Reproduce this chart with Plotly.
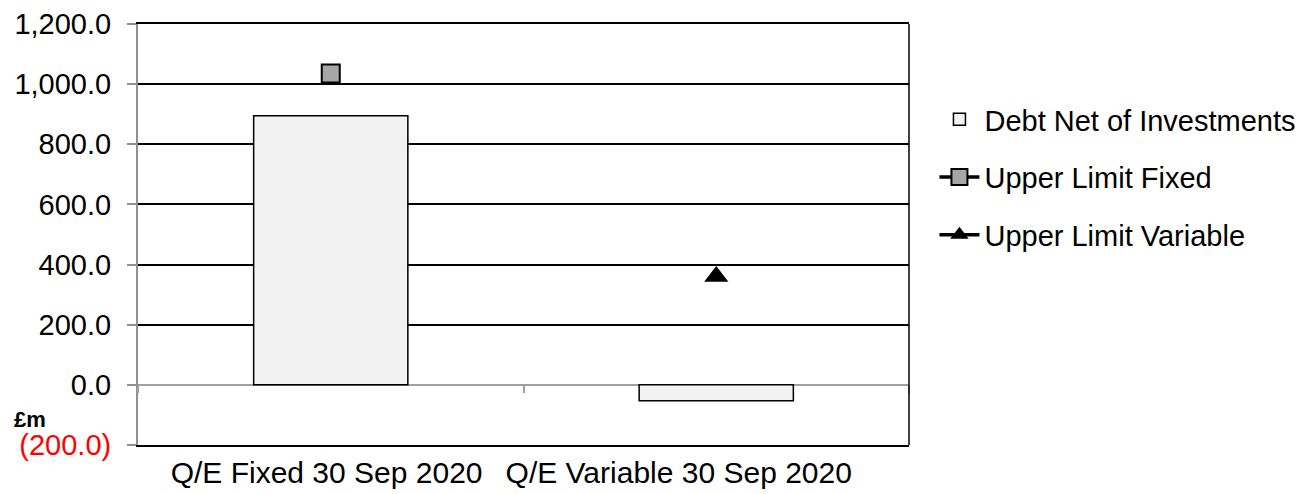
import plotly.graph_objects as go

categories = ["Q/E Fixed 30 Sep 2020", "Q/E Variable 30 Sep 2020"]
category_labels = ["Q/E Fixed 30 Sep 2020&nbsp;", "Q/E Variable 30 Sep 2020" + "&nbsp;" * 9]
debt_net = [895.0, -53.0]
upper_fixed = [1035.0, None]
upper_variable = [None, 360.0]
tick_vals = [-200, 0, 200, 400, 600, 800, 1000, 1200]
tick_text = ['<span style="color:#ff0000">(200.0)</span>', "0.0", "200.0", "400.0",
             "600.0", "800.0", "1,000.0", "1,200.0"]

FONT = "Arial, Liberation Sans, sans-serif"

fig = go.Figure()
fig.add_trace(go.Bar(
    x=categories, y=debt_net, name="Debt Net of Investments",
    marker=dict(color="#f2f2f2", line=dict(color="#000000", width=1.5)),
    width=0.4, legendgroup="a",
))
fig.add_trace(go.Scatter(
    x=categories, y=upper_fixed, name="Upper Limit Fixed", mode="lines+markers",
    line=dict(color="#000000", width=3.5),
    marker=dict(symbol="square", size=18, color="#a6a6a6", line=dict(color="#000000", width=2)),
    legendgroup="b",
))
fig.add_trace(go.Scatter(
    x=categories, y=upper_variable, name="Upper Limit Variable", mode="lines+markers",
    line=dict(color="#000000", width=3.5),
    marker=dict(symbol="triangle-up", size=21, color="#000000", line=dict(color="#000000", width=0)),
    legendgroup="c",
))

# invisible trace on secondary x axis to draw the category axis at y=0
fig.add_trace(go.Scatter(x=categories, y=[None, None], xaxis="x2", showlegend=False,
                         hoverinfo="skip"))

fig.update_layout(
    width=1303, height=494,
    margin=dict(l=130, r=402, t=16, b=57, autoexpand=False),
    paper_bgcolor="white", plot_bgcolor="white",
    font=dict(family=FONT, size=28, color="#000000"),
    bargap=0.6,
    xaxis=dict(
        type="category", showline=True, linecolor="#000000", linewidth=1.5, mirror=True,
        ticks="", showgrid=False, tickfont=dict(size=30), range=[-0.5, 1.5],
        tickvals=categories, ticktext=category_labels,
        ticklabelstandoff=0, automargin=False,
    ),
    xaxis2=dict(
        type="category", overlaying="x", anchor="free", position=1/7,
        range=[-0.5, 1.5], showline=False, ticks="outside", tickson="boundaries",
        ticklen=7, tickcolor="#a0a0a0", tickwidth=1.5, showticklabels=False, showgrid=False,
        automargin=False,
    ),
    yaxis=dict(
        range=[-200, 1200], tickvals=tick_vals, ticktext=tick_text,
        showline=True, linecolor="#909090", linewidth=2,
        ticks="outside", ticklen=9, tickcolor="#909090", tickwidth=1.5,
        showgrid=True, gridcolor="#000000", gridwidth=1.5,
        zeroline=True, zerolinecolor="#a0a0a0", zerolinewidth=2,
        tickfont=dict(size=29), ticklabelstandoff=10, automargin=False,
    ),
    legend=dict(
        x=1.033, y=0.834, xanchor="left", yanchor="top",
        font=dict(size=29), tracegroupgap=17, bgcolor="rgba(0,0,0,0)",
        itemwidth=40,
    ),
    showlegend=True,
)

fig.add_shape(type="line", xref="paper", yref="paper", x0=1, x1=1, y0=0, y1=1,
              line=dict(color="#000000", width=1.5))

fig.add_annotation(text="<b>£m</b>", xref="paper", yref="paper",
                   x=-0.164, y=0.027, xanchor="left", yanchor="bottom",
                   showarrow=False, font=dict(size=22, color="#000000", family=FONT))

fig.write_html("out.html")
